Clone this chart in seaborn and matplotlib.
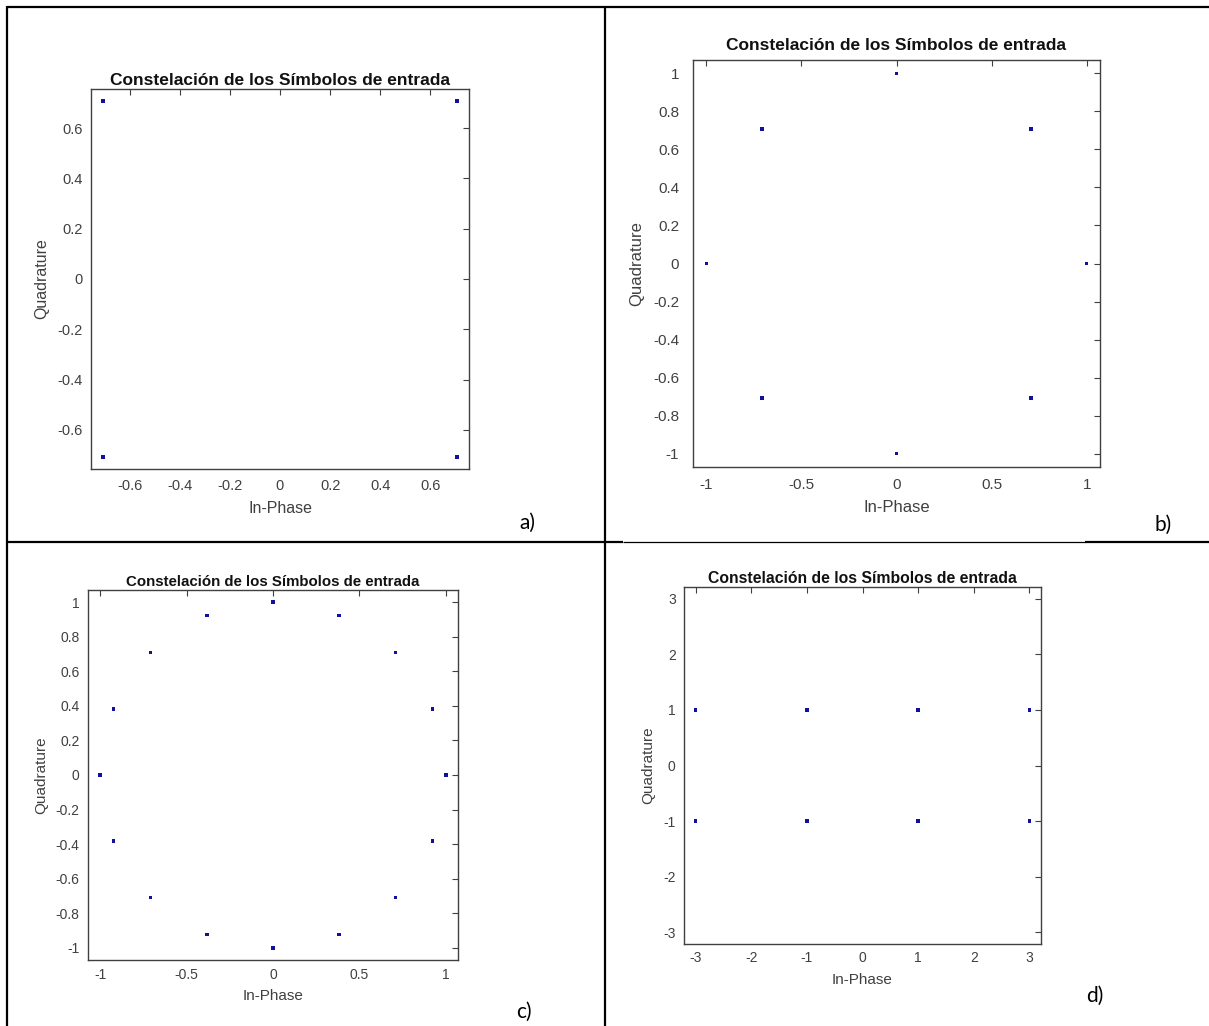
import numpy as np
import pandas as pd
import matplotlib
matplotlib.use("Agg")
import matplotlib.pyplot as plt
from matplotlib.lines import Line2D
import seaborn as sns

sns.set_style("white")
plt.rcParams["font.family"] = ["Liberation Sans", "DejaVu Sans"]
plt.rcParams["axes.unicode_minus"] = False

# ===================== datos: constelaciones =====================
# a) QPSK
a_i = [0.7071, -0.7071, -0.7071, 0.7071]
a_q = [0.7071, 0.7071, -0.7071, -0.7071]
# b) 8-PSK
b_i = [1, 0.7071, 0, -0.7071, -1, -0.7071, 0, 0.7071]
b_q = [0, 0.7071, 1, 0.7071, 0, -0.7071, -1, -0.7071]
# c) 16-PSK
c_i = [1, 0.9239, 0.7071, 0.3827, 0, -0.3827, -0.7071, -0.9239,
       -1, -0.9239, -0.7071, -0.3827, 0, 0.3827, 0.7071, 0.9239]
c_q = [0, 0.3827, 0.7071, 0.9239, 1, 0.9239, 0.7071, 0.3827,
       0, -0.3827, -0.7071, -0.9239, -1, -0.9239, -0.7071, -0.3827]
# d) 8-QAM
d_i = [-3, -1, 1, 3, -3, -1, 1, 3]
d_q = [1, 1, 1, 1, -1, -1, -1, -1]

ticks_a = [-0.6, -0.4, -0.2, 0, 0.2, 0.4, 0.6]
ticks_b_x = [-1, -0.5, 0, 0.5, 1]
ticks_b_y = [-1, -0.8, -0.6, -0.4, -0.2, 0, 0.2, 0.4, 0.6, 0.8, 1]
ticks_d = [-3, -2, -1, 0, 1, 2, 3]

titulo = "Constelación de los Símbolos de entrada"
letras = ["a)", "b)", "c)", "d)"]

W, H = 1209, 1026
fig = plt.figure(figsize=(W / 100, H / 100), dpi=100)


def px_axes(l, t, r, b):
    return fig.add_axes([l / W, 1 - b / H, (r - l) / W, (b - t) / H])


def fmt(v):
    return "0" if v == 0 else f"{v:g}"


def panel(box, xs, ys, lim, xt, yt, tsize, tpad, lsize, xpad, ypad, labsize, labpad):
    ax = px_axes(*box)
    df = pd.DataFrame({"I": xs, "Q": ys})
    sns.scatterplot(data=df, x="I", y="Q", ax=ax, marker="s", s=6,
                    color="#10109a", edgecolor="none", linewidth=0)
    ax.set_xlim(-lim, lim)
    ax.set_ylim(-lim, lim)
    ax.set_xticks(xt)
    ax.set_yticks(yt)
    ax.set_xticklabels([fmt(v) for v in xt])
    ax.set_yticklabels([fmt(v) for v in yt])
    ax.tick_params(direction="in", top=True, right=True, length=4, width=0.8,
                   colors="#404040", labelsize=lsize, labelcolor="#404040")
    ax.tick_params(axis="x", pad=xpad)
    ax.tick_params(axis="y", pad=ypad)
    for sp in ax.spines.values():
        sp.set_color("#404040")
        sp.set_linewidth(1.0)
    ax.set_xlabel("In-Phase", fontsize=labsize, color="#404040", labelpad=labpad)
    ax.set_ylabel("Quadrature", fontsize=labsize, color="#404040", labelpad=labpad)
    ax.set_title(titulo, fontsize=tsize, fontweight="bold", color="#111111", pad=tpad)
    return ax


panel((91, 89, 469, 469), a_i, a_q, 0.755, ticks_a, ticks_a,
      12.5, 3, 10.5, 7, 6, 11.5, 6)
panel((693, 60, 1100, 467), b_i, b_q, 1.07, ticks_b_x, ticks_b_y,
      12.5, 7, 11, 8, 10, 12, 6)
panel((88, 590, 458, 960), c_i, c_q, 1.07, ticks_b_x, ticks_b_y,
      10.8, 3, 10, 6, 6, 11, 5)
panel((684, 587, 1041, 944), d_i, d_q, 3.21, ticks_d, ticks_d,
      11.3, 3, 10, 5, 6, 11, 6)

# letras de cada panel (texto de la tabla de Word)
pos_letras = [(527, 523), (1163, 525), (524, 1012), (1095, 996)]
for txt, (x, y) in zip(letras, pos_letras):
    fig.text(x / W, 1 - y / H, txt, fontsize=15, family=["Lato", "DejaVu Sans"],
             ha="center", va="center", color="black")


# bordes de la tabla
def linea(x0, y0, x1, y1, lw=1.6):
    fig.add_artist(Line2D([x0 / W, x1 / W], [1 - y0 / H, 1 - y1 / H],
                          color="black", linewidth=lw, solid_capstyle="butt"))


linea(7, 6.5, W, 6.5)
linea(7, 6, 7, H)
linea(605, 6, 605, H)
linea(7, 541.5, 623, 541.5)
linea(623, 541.5, 1085, 541.5, lw=0.9)
linea(1085, 541.5, W, 541.5)

fig.savefig("out.png", dpi=100, facecolor="white")
